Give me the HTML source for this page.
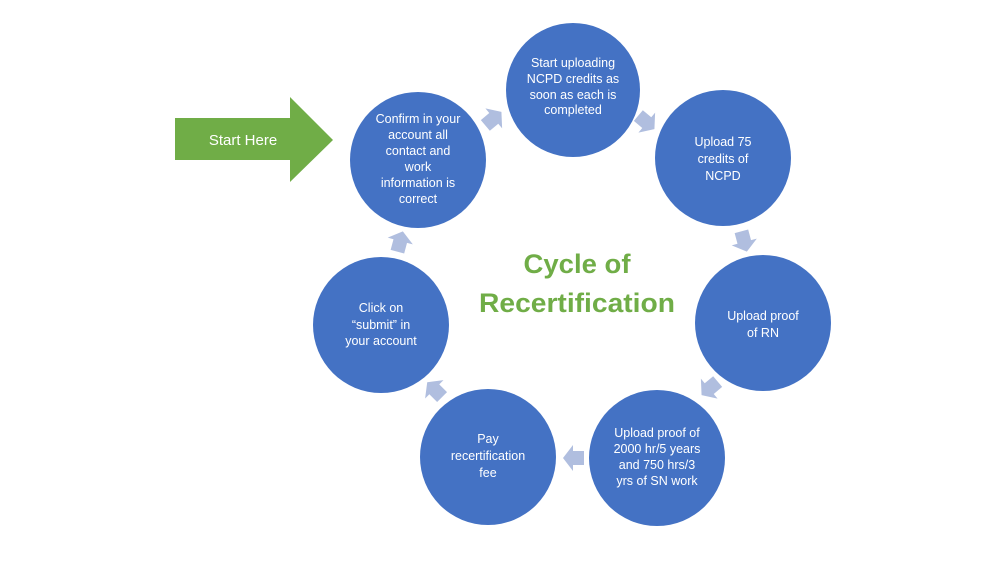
<!DOCTYPE html>
<html><head><meta charset="utf-8"><style>
html,body{margin:0;padding:0;background:#fff;}
svg{display:block;}
.c{fill:#4472c4;}
.t{fill:#fff;font-family:"Liberation Sans",sans-serif;font-size:12.5px;text-anchor:middle;}
.a{fill:#b0bedf;}
</style></head><body>
<svg width="1000" height="587" viewBox="0 0 1000 587" xmlns="http://www.w3.org/2000/svg">
<defs><polygon id="ar" points="-10,-7 1,-7 1,-13 11,0 1,13 1,7 -10,7"/></defs>
<polygon points="175,118 290,118 290,97 333,140 290,182 290,160 175,160" fill="#70ad47"/>
<text x="243" y="145" fill="#fff" font-family="Liberation Sans,sans-serif" font-size="15" text-anchor="middle">Start Here</text>
<circle class="c" cx="573" cy="90" r="67"/>
<circle class="c" cx="723" cy="158" r="68"/>
<circle class="c" cx="763" cy="323" r="68"/>
<circle class="c" cx="657" cy="458" r="68"/>
<circle class="c" cx="488" cy="457" r="68"/>
<circle class="c" cx="381" cy="325" r="68"/>
<circle class="c" cx="418" cy="160" r="68"/>
<use href="#ar" class="a" transform="translate(493,119) rotate(-40)"/>
<use href="#ar" class="a" transform="translate(646,122) rotate(40)"/>
<use href="#ar" class="a" transform="translate(744,241) rotate(75)"/>
<use href="#ar" class="a" transform="translate(710,388) rotate(140)"/>
<use href="#ar" class="a" transform="translate(574,458) rotate(180)"/>
<use href="#ar" class="a" transform="translate(435,390) rotate(-135)"/>
<use href="#ar" class="a" transform="translate(400,242) rotate(-75)"/>
<text class="t" x="573" y="67">Start uploading</text>
<text class="t" x="573" y="83">NCPD credits as</text>
<text class="t" x="573" y="99">soon as each is</text>
<text class="t" x="573" y="114">completed</text>
<text class="t" x="723" y="146">Upload 75</text>
<text class="t" x="723" y="163">credits of</text>
<text class="t" x="723" y="180">NCPD</text>
<text class="t" x="763" y="320">Upload proof</text>
<text class="t" x="763" y="337">of RN</text>
<text class="t" x="657" y="437">Upload proof of</text>
<text class="t" x="657" y="453">2000 hr/5 years</text>
<text class="t" x="657" y="469">and 750 hrs/3</text>
<text class="t" x="657" y="485">yrs of SN work</text>
<text class="t" x="488" y="443">Pay</text>
<text class="t" x="488" y="460">recertification</text>
<text class="t" x="488" y="477">fee</text>
<text class="t" x="381" y="312">Click on</text>
<text class="t" x="381" y="329">“submit” in</text>
<text class="t" x="381" y="345">your account</text>
<text class="t" x="418" y="123">Confirm in your</text>
<text class="t" x="418" y="139">account all</text>
<text class="t" x="418" y="155">contact and</text>
<text class="t" x="418" y="171">work</text>
<text class="t" x="418" y="187">information is</text>
<text class="t" x="418" y="203">correct</text>
<text x="577" y="273" fill="#70ad47" font-family="Liberation Sans,sans-serif" font-weight="bold" font-size="27" text-anchor="middle" textLength="107" lengthAdjust="spacingAndGlyphs">Cycle of</text>
<text x="577" y="312" fill="#70ad47" font-family="Liberation Sans,sans-serif" font-weight="bold" font-size="27" text-anchor="middle" textLength="196" lengthAdjust="spacingAndGlyphs">Recertification</text>
</svg>
</body></html>
